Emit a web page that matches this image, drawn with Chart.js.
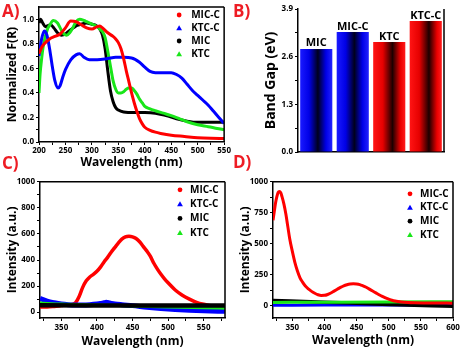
<!DOCTYPE html>
<html><head><meta charset="utf-8">
<script src="https://cdn.jsdelivr.net/npm/chart.js@4.4.1/dist/chart.umd.min.js"></script>
<style>
html,body{margin:0;padding:0;background:#fff;width:463px;height:351px;overflow:hidden;position:relative;}
canvas{position:absolute;}
.lbl{position:absolute;font:bold 17px "Open Sans",sans-serif;color:#ee1c24;line-height:1;}
</style></head><body>
<canvas id="cA" width="232" height="175" style="left:0;top:0"></canvas>
<canvas id="cB" width="231" height="175" style="left:232px;top:0"></canvas>
<canvas id="cC" width="232" height="176" style="left:0;top:175px"></canvas>
<canvas id="cD" width="231" height="176" style="left:232px;top:175px"></canvas>
<div class="lbl" style="left:2px;top:2px">A)</div>
<div class="lbl" style="left:233px;top:2px">B)</div>
<div class="lbl" style="left:2px;top:154px">C)</div>
<div class="lbl" style="left:233px;top:153px">D)</div>
<script>
// ---------- data ----------
const seriesNames = ['MIC-C', 'KTC-C', 'MIC', 'KTC'];

// Panel A: normalized F(R)
const aWlMICC = [200,205,210,220,230,240,250,260,270,280,290,300,310,315,320,330,340,345,350,355,360,365,370,375,380,385,390,395,400,410,420,430,450,475,500,525,550];
const aMICC   = [0.72,0.77,0.80,0.84,0.86,0.88,0.93,0.985,0.98,0.955,0.93,0.92,0.94,0.945,0.93,0.89,0.86,0.84,0.81,0.76,0.68,0.58,0.49,0.40,0.32,0.25,0.19,0.15,0.12,0.095,0.08,0.07,0.055,0.045,0.035,0.03,0.028];
const aWlKTCC = [200,205,210,215,220,225,230,236,240,245,250,260,270,277,285,295,310,330,345,360,375,390,400,410,420,435,450,460,470,480,490,500,510,520,530,540,550];
const aKTCC   = [0.70,0.84,0.905,0.87,0.76,0.62,0.50,0.44,0.46,0.53,0.59,0.67,0.71,0.72,0.69,0.67,0.67,0.68,0.69,0.69,0.685,0.65,0.61,0.575,0.565,0.565,0.565,0.55,0.52,0.47,0.42,0.38,0.34,0.30,0.25,0.20,0.15];
const aWlMIC  = [200,203,207,212,218,222,228,235,242,250,258,265,272,280,290,300,308,315,320,325,330,335,340,345,350,360,380,400,420,440,460,480,500,520,550];
const aMIC    = [0.97,1.0,0.97,0.94,0.95,0.955,0.93,0.89,0.87,0.88,0.91,0.93,0.95,0.96,0.97,0.96,0.95,0.92,0.87,0.76,0.58,0.42,0.33,0.28,0.26,0.245,0.24,0.24,0.235,0.215,0.19,0.17,0.16,0.16,0.16];
const aWlKTC  = [200,202,205,208,212,216,220,227,235,240,245,252,258,265,270,277,285,290,300,310,315,320,325,330,335,340,345,350,355,360,365,370,375,380,385,390,395,400,410,420,435,450,465,480,500,520,550];
const aKTC    = [0.40,0.55,0.68,0.78,0.86,0.92,0.95,0.99,0.97,0.93,0.89,0.87,0.89,0.94,0.98,1.0,0.99,0.98,0.96,0.94,0.92,0.90,0.85,0.74,0.62,0.50,0.43,0.40,0.40,0.41,0.43,0.44,0.44,0.42,0.39,0.35,0.32,0.29,0.27,0.255,0.235,0.215,0.19,0.165,0.14,0.125,0.10];
const aTicksX = [200,225,250,275,300,325,350,375,400,425,450,475,500,525,550];
const aMajorX = [200,250,300,350,400,450,500,550];
const aTicksY = [0,0.1,0.2,0.3,0.4,0.5,0.6,0.7,0.8,0.9,1.0];
const aMajorY = [0,0.2,0.4,0.6,0.8,1.0];

// Panel B: band gap
const bandCats = ['MIC', 'MIC-C', 'KTC', 'KTC-C'];
const bandGap  = [2.81, 3.27, 3.0, 3.57];
const bTicksY  = [0, 0.65, 1.3, 1.95, 2.6, 3.25, 3.9];
const bMajorY  = [0, 1.3, 2.6, 3.9];

// Panel C: PL intensity
const cWlMICC = [320,330,340,350,360,365,370,375,380,385,390,395,400,405,410,415,420,425,430,435,440,445,450,455,460,465,470,475,480,485,490,495,500,510,520,530,540,550,560,570,580];
const cMICC   = [40,40,44,50,56,60,72,120,190,240,270,290,313,345,385,420,460,495,530,560,578,582,578,565,540,505,470,430,375,330,290,255,225,170,130,100,75,60,50,45,42];
const cWlKTCC = [320,330,340,350,360,370,380,390,400,405,410,413,418,425,435,450,470,490,510,530,550,580];
const cKTCC   = [105,85,72,62,57,55,55,57,62,66,72,75,70,63,57,50,38,28,20,14,10,6];
const cWlMIC  = [320,450,580];
const cMIC    = [52,51,50];
const cWlKTC  = [320,350,400,450,500,550,580];
const cKTC    = [70,62,55,48,40,33,30];
const cTicksX = [325,350,375,400,425,450,475,500,525,550,575];
const cMajorX = [350,400,450,500,550];
const cTicksY = [0,100,200,300,400,500,600,700,800,900,1000];
const cMajorY = [0,200,400,600,800,1000];

// Panel D: PL intensity
const dWlMICC = [320,322,324,326,328,330,332,334,337,340,343,346,350,354,358,362,366,370,375,380,385,390,395,400,405,410,415,420,425,430,435,440,445,450,455,460,465,470,475,480,485,490,495,500,505,510,520,530,540,560,580,600];
const dMICC   = [690,760,830,880,915,922,912,880,820,740,640,540,440,350,280,225,190,160,135,115,100,88,82,83,90,102,117,132,147,160,169,175,177,175,170,160,148,133,118,103,88,74,62,52,43,37,30,26,24,22,21,20];
const dWlKTCC = [320,400,500,600];
const dKTCC   = [3,4,5,6];
const dWlMIC  = [320,400,500,600];
const dMIC    = [42,28,10,-6];
const dWlKTC  = [320,400,500,600];
const dKTC    = [26,28,30,31];
const dTicksX = [325,350,375,400,425,450,475,500,525,550,575,600];
const dMajorX = [350,400,450,500,550,600];
const dTicksY = [0,125,250,375,500,625,750,875,1000];
const dMajorY = [0,250,500,750,1000];

// ---------- styles ----------
const FONT = '"Open Sans", "Liberation Sans", sans-serif';
Chart.defaults.font.family = FONT;
Chart.defaults.font.weight = 'bold';
Chart.defaults.color = '#000';
Chart.defaults.animation = false;
const COL = { 'MIC-C': '#ff0000', 'KTC-C': '#0000ff', 'MIC': '#000000', 'KTC': '#19e619' };
const SHAPE = { 'MIC-C': 'circle', 'KTC-C': 'triangle', 'MIC': 'circle', 'KTC': 'triangle' };

const pts = (xs, ys) => xs.map((x, i) => ({ x, y: ys[i] }));

const framePlugin = {
  id: 'frame',
  afterDraw(chart, args, o) {
    const { left, right, top, bottom } = chart.chartArea;
    const c = chart.ctx;
    c.save(); c.strokeStyle = '#000'; c.lineWidth = 1.5; c.beginPath();
    const s = o.sides || '';
    if (s.includes('t')) { c.moveTo(left, top); c.lineTo(right, top); }
    if (s.includes('r')) { c.moveTo(right, top); c.lineTo(right, bottom); }
    c.stroke(); c.restore();
  }
};

const legendPlugin = {
  id: 'mlegend',
  afterDraw(chart, args, o) {
    if (!o.show) return;
    const ca = chart.chartArea, c = chart.ctx;
    c.save();
    seriesNames.forEach((name, i) => {
      const y = ca.top + o.y0 + i * o.dy;
      const mx = ca.right - o.mx;
      c.fillStyle = COL[name];
      c.beginPath();
      if (SHAPE[name] === 'circle') { c.arc(mx, y, 2.4, 0, Math.PI * 2); }
      else { c.moveTo(mx, y - 2.8); c.lineTo(mx + 2.9, y + 2.2); c.lineTo(mx - 2.9, y + 2.2); c.closePath(); }
      c.fill();
      c.fillStyle = '#000';
      c.font = 'bold 10px ' + FONT;
      c.textBaseline = 'middle'; c.textAlign = 'left';
      c.fillText(name, ca.right - o.tx, y);
    });
    c.restore();
  }
};

function xAxis(min, max, ticks, majors, height, titlePadBottom, tickPad) {
  return {
    type: 'linear', min, max,
    afterBuildTicks: s => { s.ticks = ticks.map(v => ({ value: v })); },
    afterFit: s => { s.height = height; },
    ticks: { font: { size: 8, weight: 'bold' }, padding: tickPad, maxRotation: 0, autoSkip: false,
      callback: v => majors.includes(v) ? String(v) : '' },
    grid: { drawOnChartArea: false, tickLength: 3, color: '#000', tickColor: '#000' },
    border: { color: '#000', width: 1.5 },
    title: { display: true, text: 'Wavelength (nm)', font: { size: 12, weight: 'bold' }, padding: { top: 0, bottom: titlePadBottom } }
  };
}
function yAxis(min, max, ticks, majors, width, title, titleSize, titlePad, fmt) {
  return {
    type: 'linear', min, max,
    afterBuildTicks: s => { s.ticks = ticks.map(v => ({ value: v })); },
    afterFit: s => { s.width = width; },
    ticks: { font: { size: 8, weight: 'bold' }, padding: 2, autoSkip: false,
      callback: v => majors.includes(v) ? fmt(v) : '' },
    grid: { drawOnChartArea: false, tickLength: 3, color: '#000', tickColor: '#000' },
    border: { color: '#000', width: 1.5 },
    title: { display: true, text: title, font: { size: titleSize, weight: 'bold' }, padding: { top: titlePad, bottom: 0 } }
  };
}
function lineDs(name, xs, ys, width, order) {
  return { label: name, data: pts(xs, ys), borderColor: COL[name], backgroundColor: COL[name],
    borderWidth: width, pointRadius: 0, cubicInterpolationMode: 'monotone', fill: false, order };
}
const baseOpts = { responsive: false, devicePixelRatio: 1, animation: false, events: [] };

// ---------- Panel A ----------
new Chart(document.getElementById('cA'), {
  type: 'line',
  data: { datasets: [
    lineDs('MIC-C', aWlMICC, aMICC, 3, 0),
    lineDs('KTC-C', aWlKTCC, aKTCC, 3, 1),
    lineDs('MIC', aWlMIC, aMIC, 3, 3),
    lineDs('KTC', aWlKTC, aKTC, 3, 2)
  ] },
  options: { ...baseOpts,
    layout: { padding: { top: 7, right: 7, left: 0, bottom: 0 } },
    scales: {
      x: xAxis(200, 550, aTicksX, aMajorX, 33, 5, 1),
      y: yAxis(0, 1.1, aTicksY, aMajorY, 39, 'Normalized F(R)', 12, 5, v => v.toFixed(1))
    },
    plugins: { legend: { display: false }, tooltip: { enabled: false },
      frame: { sides: 'tr' }, mlegend: { show: true, y0: 8, dy: 13, mx: 45, tx: 33 } }
  },
  plugins: [framePlugin, legendPlugin]
});

// ---------- Panel B ----------
function makeGrad(c, x0, x1, isBlue) {
  const g = c.createLinearGradient(x0, 0, x1, 0);
  if (isBlue) {
    g.addColorStop(0, '#1a1aff'); g.addColorStop(0.28, '#0000e6'); g.addColorStop(0.55, '#00001c');
    g.addColorStop(0.8, '#0000e6'); g.addColorStop(1, '#2222ff');
  } else {
    g.addColorStop(0, '#ff1414'); g.addColorStop(0.3, '#e60000'); g.addColorStop(0.6, '#1c0000');
    g.addColorStop(0.85, '#ea0000'); g.addColorStop(1, '#ff1c1c');
  }
  return g;
}
const barStylePlugin = {
  id: 'barStyle',
  beforeDatasetsDraw(chart) {
    const meta = chart.getDatasetMeta(0);
    meta.data.forEach((bar, i) => {
      if (!isFinite(bar.x) || !isFinite(bar.width)) return;
      const g = makeGrad(chart.ctx, bar.x - bar.width / 2, bar.x + bar.width / 2, i < 2);
      if (Object.isFrozen(bar.options)) bar.options = Object.assign({}, bar.options);
      bar.options.backgroundColor = g;
    });
  },
  afterDatasetsDraw(chart) {
    const c = chart.ctx, meta = chart.getDatasetMeta(0);
    c.save(); c.fillStyle = '#000'; c.font = 'bold 11px ' + FONT;
    c.textAlign = 'center'; c.textBaseline = 'alphabetic';
    meta.data.forEach((bar, i) => c.fillText(bandCats[i], bar.x, bar.y - 2.5));
    c.restore();
  }
};
new Chart(document.getElementById('cB'), {
  type: 'bar',
  data: { labels: bandCats, datasets: [{ data: bandGap,
    backgroundColor: ctx => (ctx.dataIndex < 2 ? '#0000ff' : '#ff0000'), borderWidth: 0,
    barPercentage: 0.88, categoryPercentage: 1 }] },
  options: { ...baseOpts,
    layout: { padding: { top: 9, right: 19, left: 0, bottom: 0 } },
    scales: {
      x: { type: 'category', afterFit: s => { s.height = 23; },
        ticks: { display: false }, grid: { drawOnChartArea: false, drawTicks: false, color: '#000' },
        border: { color: '#000', width: 1.5 } },
      y: yAxis(0, 3.9, bTicksY, bMajorY, 66, 'Band Gap (eV)', 14, 31, v => v.toFixed(1))
    },
    plugins: { legend: { display: false }, tooltip: { enabled: false }, frame: { sides: 'r' } }
  },
  plugins: [framePlugin, barStylePlugin]
});

// ---------- Panel C ----------
new Chart(document.getElementById('cC'), {
  type: 'line',
  data: { datasets: [
    lineDs('MIC-C', cWlMICC, cMICC, 3.5, 3),
    lineDs('KTC-C', cWlKTCC, cKTCC, 5, 2),
    lineDs('MIC', cWlMIC, cMIC, 4.5, 0),
    lineDs('KTC', cWlKTC, cKTC, 3, 1)
  ] },
  options: { ...baseOpts,
    layout: { padding: { top: 2, right: 7, left: 0, bottom: 0 } },
    scales: {
      x: xAxis(320, 580, cTicksX, cMajorX, 33, 2, 2),
      y: yAxis(-45, 1000, cTicksY, cMajorY, 40, 'Intensity (a.u.)', 12, 5, v => String(v))
    },
    plugins: { legend: { display: false }, tooltip: { enabled: false },
      frame: { sides: 'tr' }, mlegend: { show: true, y0: 8, dy: 14.3, mx: 45, tx: 35 } }
  },
  plugins: [framePlugin, legendPlugin]
});

// ---------- Panel D ----------
new Chart(document.getElementById('cD'), {
  type: 'line',
  data: { datasets: [
    lineDs('MIC-C', dWlMICC, dMICC, 3, 0),
    lineDs('KTC-C', dWlKTCC, dKTCC, 3, 3),
    lineDs('MIC', dWlMIC, dMIC, 3.5, 2),
    lineDs('KTC', dWlKTC, dKTC, 3, 1)
  ] },
  options: { ...baseOpts,
    layout: { padding: { top: 2, right: 10, left: 0, bottom: 0 } },
    scales: {
      x: xAxis(320, 600, dTicksX, dMajorX, 33, 3, 2),
      y: yAxis(-100, 1000, dTicksY, dMajorY, 41, 'Intensity (a.u.)', 12, 6, v => String(v))
    },
    plugins: { legend: { display: false }, tooltip: { enabled: false },
      frame: { sides: 'tr' }, mlegend: { show: true, y0: 12, dy: 13.7, mx: 43, tx: 33 } }
  },
  plugins: [framePlugin, legendPlugin]
});
</script>
</body></html>
